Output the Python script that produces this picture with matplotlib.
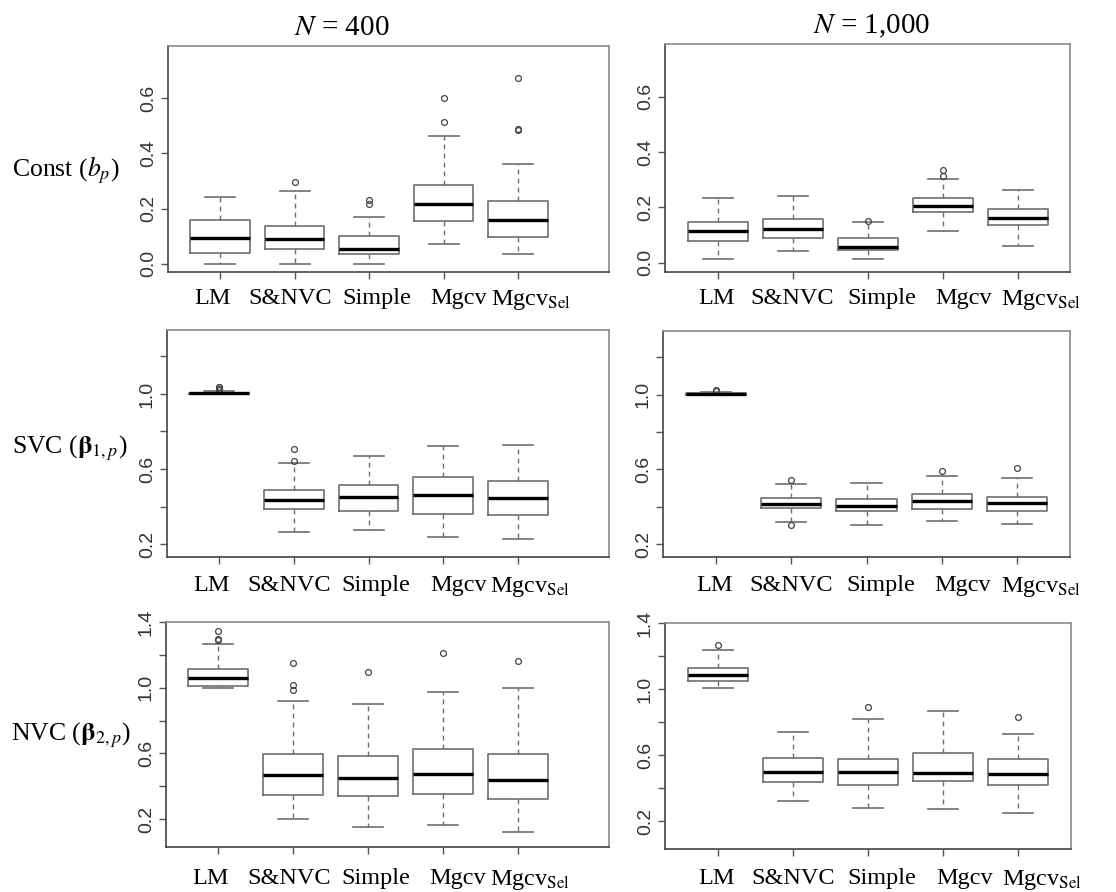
import matplotlib
matplotlib.use("Agg")
import matplotlib.pyplot as plt

plt.rcParams['mathtext.fontset'] = 'stix'
plt.rcParams['font.family'] = 'Liberation Serif'

methods = ["LM", "S&NVC", "Simple", "Mgcv", r"Mgcv$_{\mathrm{Sel}}$"]

# box stats per method: whisker low, q1, median, q3, whisker high
const_400 = [[0.000, 0.039, 0.092, 0.158, 0.242],
             [0.000, 0.055, 0.088, 0.138, 0.265],
             [0.000, 0.034, 0.053, 0.099, 0.170],
             [0.072, 0.154, 0.217, 0.285, 0.462],
             [0.034, 0.097, 0.159, 0.229, 0.361]]
const_400_out = [[], [0.298], [0.218, 0.233], [0.515, 0.600], [0.485, 0.489, 0.673]]

const_1000 = [[0.013, 0.080, 0.114, 0.147, 0.233],
              [0.044, 0.091, 0.121, 0.158, 0.240],
              [0.015, 0.046, 0.058, 0.088, 0.148],
              [0.116, 0.182, 0.205, 0.234, 0.302],
              [0.061, 0.138, 0.161, 0.195, 0.262]]
const_1000_out = [[], [], [0.150], [0.313, 0.335], []]

svc_400 = [[0.998, 1.000, 1.003, 1.007, 1.015],
           [0.262, 0.385, 0.433, 0.487, 0.633],
           [0.276, 0.376, 0.451, 0.515, 0.667],
           [0.239, 0.362, 0.463, 0.558, 0.724],
           [0.228, 0.355, 0.446, 0.537, 0.727]]
svc_400_out = [[1.020, 1.027, 1.035, 1.039], [0.645, 0.706], [], [], []]

svc_1000 = [[0.999, 1.001, 1.004, 1.008, 1.014],
            [0.320, 0.392, 0.417, 0.449, 0.524],
            [0.304, 0.377, 0.402, 0.440, 0.526],
            [0.322, 0.390, 0.433, 0.469, 0.562],
            [0.306, 0.379, 0.420, 0.453, 0.553]]
svc_1000_out = [[1.018, 1.025], [0.304, 0.544], [], [0.592], [0.605]]

nvc_400 = [[0.999, 1.009, 1.058, 1.115, 1.266],
           [0.198, 0.349, 0.467, 0.594, 0.920],
           [0.151, 0.339, 0.453, 0.582, 0.898],
           [0.161, 0.355, 0.475, 0.629, 0.975],
           [0.121, 0.325, 0.436, 0.598, 1.001]]
nvc_400_out = [[1.289, 1.297, 1.343], [0.987, 1.019, 1.149], [1.096], [1.212], [1.161]]

nvc_1000 = [[1.004, 1.050, 1.085, 1.128, 1.239],
            [0.325, 0.440, 0.499, 0.581, 0.741],
            [0.283, 0.418, 0.501, 0.577, 0.817],
            [0.277, 0.442, 0.495, 0.612, 0.866],
            [0.251, 0.418, 0.487, 0.575, 0.727]]
nvc_1000_out = [[1.265], [], [0.894], [], [0.829]]

W, H = 1116, 892
fig = plt.figure(figsize=(W / 100, H / 100), dpi=100)

# method names were placed by hand in the original, not exactly under the ticks
left_label_x = [0.90, 1.94, 3.10, 4.20, 5.17]
right_label_x = [0.99, 2.00, 3.19, 4.28, 5.32]


def add_ax(x0, x1, y0, y1):
    return fig.add_axes([x0 / W, 1 - y1 / H, (x1 - x0) / W, (y1 - y0) / H])


def draw_panel(ax, stats, outliers, xlim, ylim, yticks, ylabels, label_x, label_drop):
    bstats = []
    for (lo, q1, med, q3, hi), fl in zip(stats, outliers):
        bstats.append(dict(whislo=lo, q1=q1, med=med, q3=q3, whishi=hi, fliers=fl))
    gray = '#6e6e6e'
    ax.bxp(bstats, positions=range(1, 6), widths=0.8, showfliers=True,
           boxprops=dict(color=gray, lw=1.2),
           medianprops=dict(color='black', lw=2.4, solid_capstyle='butt'),
           whiskerprops=dict(color=gray, lw=1.0, ls=(0, (3.5, 3))),
           capprops=dict(color=gray, lw=1.2),
           flierprops=dict(marker='o', mfc='none', mec='#444444', ms=4.2, mew=0.9))
    ax.set_xlim(*xlim)
    ax.set_ylim(*ylim)
    ax.set_xticks(range(1, 6))
    ax.set_xticklabels([])
    for name, xl in zip(methods, label_x):
        ax.annotate(name, xy=(xl, 0), xycoords=('data', 'axes fraction'),
                    xytext=(0, -label_drop * 0.72), textcoords='offset points',
                    ha='center', va='top', fontsize=17.5, annotation_clip=False)
    ax.set_yticks(yticks)
    ax.set_yticklabels(ylabels, rotation=90, va='center', family='Liberation Sans',
                       fontsize=14, color='#333333')
    ax.tick_params(axis='x', length=5, width=1, color='#555555')
    ax.tick_params(axis='y', length=5, width=1, color='#555555', pad=3)
    for s in ('top', 'right'):
        ax.spines[s].set_color('#8a8a8a')
        ax.spines[s].set_linewidth(1.2)
    for s in ('left', 'bottom'):
        ax.spines[s].set_color('#444444')
        ax.spines[s].set_linewidth(1.2)


left_x = (0.3, 6.22)
right_x = (0.3, 5.7)

ax = add_ax(168, 609, 46, 272)
draw_panel(ax, const_400, const_400_out, left_x, (-0.03, 0.79),
           [0.0, 0.2, 0.4, 0.6], ['0.0', '0.2', '0.4', '0.6'], left_label_x, 16)
ax = add_ax(665, 1070, 44, 272)
draw_panel(ax, const_1000, const_1000_out, right_x, (-0.033, 0.79),
           [0.0, 0.2, 0.4, 0.6], ['0.0', '0.2', '0.4', '0.6'], right_label_x, 16)

svc_ticks = [0.2, 0.4, 0.6, 0.8, 1.0, 1.2]
svc_labels = ['0.2', '', '0.6', '', '1.0', '']
ax = add_ax(167, 609, 330, 557)
draw_panel(ax, svc_400, svc_400_out, left_x, (0.131, 1.341), svc_ticks, svc_labels,
           left_label_x, 18)
ax = add_ax(663, 1070, 331, 557)
draw_panel(ax, svc_1000, svc_1000_out, right_x, (0.131, 1.341), svc_ticks, svc_labels,
           right_label_x, 18)

nvc_ticks = [0.2, 0.4, 0.6, 0.8, 1.0, 1.2, 1.4]
nvc_labels = ['0.2', '', '0.6', '', '1.0', '', '1.4']
ax = add_ax(166, 609, 622, 847)
draw_panel(ax, nvc_400, nvc_400_out, left_x, (0.03, 1.40), nvc_ticks, nvc_labels,
           left_label_x, 21)
ax = add_ax(665, 1071, 623, 849)
draw_panel(ax, nvc_1000, nvc_1000_out, right_x, (0.033, 1.40), nvc_ticks, nvc_labels,
           right_label_x, 19)

# column titles and row labels
fig.text(342 / W, 1 - 28 / H, r'$N$ = 400', ha='center', va='center', fontsize=21)
fig.text(872 / W, 1 - 26 / H, r'$N$ = 1,000', ha='center', va='center', fontsize=21)
fig.text(12 / W, 1 - 170 / H, r'Const ($b_p$)', ha='left', va='center', fontsize=18.5)
fig.text(12 / W, 1 - 448 / H, r'SVC ($\mathbf{\beta}_{1,p}$)', ha='left', va='center', fontsize=18.5)
fig.text(11 / W, 1 - 735 / H, r'NVC ($\mathbf{\beta}_{2,p}$)', ha='left', va='center', fontsize=18.5)

fig.savefig('out.png', dpi=100, facecolor='white')
